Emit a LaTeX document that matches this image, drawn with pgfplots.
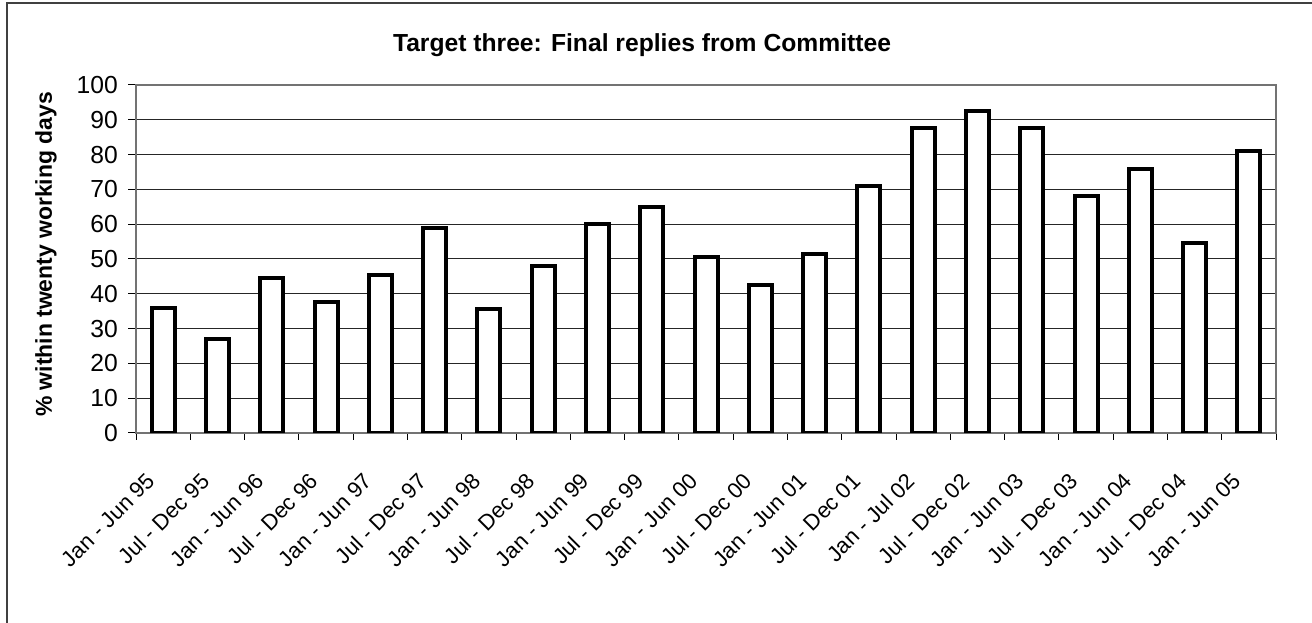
\documentclass[border=0pt]{standalone}
\usepackage{pgfplots}
\pgfplotsset{compat=1.18}
\usepackage{fontspec}
\setmainfont{Liberation Sans}
\begin{document}
\begin{tikzpicture}
\useasboundingbox (0pt,0pt) rectangle (984pt,467.25pt);
% chart frame
\draw[line width=1.5pt, black!75] (5.25pt,-8pt) -- (5.25pt,465pt) -- (1000pt,465pt);
% title
\node[font=\bfseries\fontsize{18.5}{20}\selectfont, anchor=base] at (481.5pt,428.25pt)
  {Target three: Final replies from Committee};
% y axis title
\node[font=\bfseries\fontsize{17.2}{19}\selectfont, rotate=90, anchor=base] at (39pt,276.4pt)
  {\% within twenty working days};
\begin{axis}[
  at={(102pt,142.5pt)}, anchor=south west,
  scale only axis, width=855pt, height=261pt,
  xmin=-0.5, xmax=20.5, ymin=0, ymax=100,
  ytick={0,10,...,100},
  yticklabels={0,10,20,30,40,50,60,70,80,90,100},
  xtick={0,...,20},
  minor xtick={-0.5,0.5,...,20.5},
  xticklabels={Jan - Jun 95, Jul - Dec 95, Jan - Jun 96, Jul - Dec 96, Jan - Jun 97,
    Jul - Dec 97, Jan - Jun 98, Jul - Dec 98, Jan - Jun 99, Jul - Dec 99,
    Jan - Jun 00, Jul - Dec 00, Jan - Jun 01, Jul - Dec 01, Jan - Jul 02,
    Jul - Dec 02, Jan - Jun 03, Jul - Dec 03, Jan - Jun 04, Jul - Dec 04, Jan - Jun 05},
  ymajorgrids,
  major grid style={black!85, line width=0.75pt},
  axis line style={black!55, line width=1.5pt},
  tick pos=left,
  tick align=outside,
  tick style={black, line width=0.75pt},
  major tick length=6pt,
  minor tick length=5.25pt,
  major x tick style={draw=none},
  yticklabel style={font=\fontsize{18.5}{20}\selectfont, anchor=east, inner sep=0pt, xshift=-7.5pt},
  xticklabel style={font=\fontsize{16.5}{18}\selectfont, xshift=-9pt, yshift=-27pt,
    rotate=45, anchor=east, inner sep=0pt},
]
\addplot[ybar, bar width=17.25pt, fill=white, draw=black, line width=3pt]
  coordinates {
  (0,36) (1,27) (2,44.5) (3,37.5) (4,45.5) (5,59) (6,35.5) (7,48)
  (8,60) (9,65) (10,50.5) (11,42.5) (12,51.5) (13,71) (14,87.5)
  (15,92.5) (16,87.5) (17,68) (18,76) (19,54.5) (20,81)
  };
\end{axis}
\end{tikzpicture}
\end{document}
